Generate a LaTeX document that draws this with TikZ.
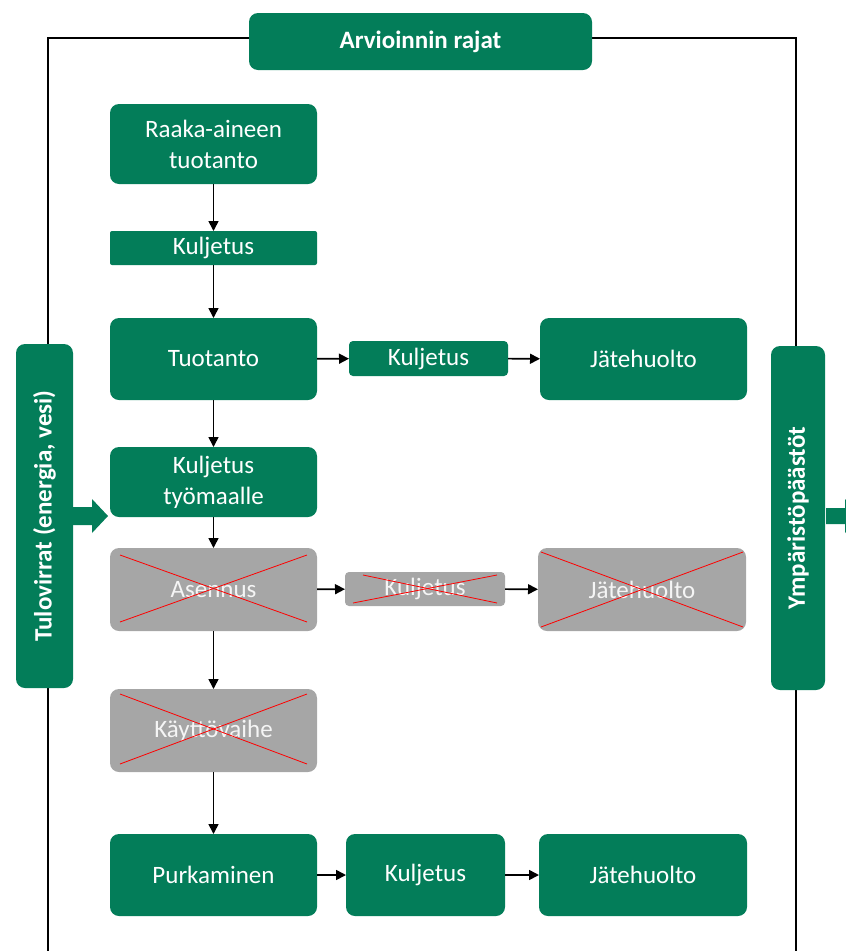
\documentclass[tikz,border=0pt]{standalone}
\usepackage{fontspec}
\setmainfont{Carlito}
\usetikzlibrary{arrows.meta}
\definecolor{fgreen}{RGB}{3,125,89}
\definecolor{fgray}{RGB}{166,166,166}
\begin{document}
\begin{tikzpicture}[x=1pt,y=-1pt,
  box/.style={fill=fgreen,draw=none,rounded corners=9pt,text=white,align=center,inner sep=0pt,outer sep=0pt,font=\fontsize{25}{31}\selectfont},
  gbox/.style={box,fill=fgray,text=white!92!gray},
  lbl/.style={box,font=\bfseries\fontsize{25}{31}\selectfont},
  arr/.style={line width=1.6pt,-{Triangle[length=10pt,width=10pt]}},
  cross/.style={red,line width=0.8pt}]
\useasboundingbox (0,0) rectangle (846,951);
% frame
\draw[line width=1.5pt] (249,38) -- (48,38) -- (48,951);
\draw[line width=1.5pt] (592,38) -- (796,38) -- (796,951);
% title
\node[lbl,minimum width=343pt,minimum height=57pt] (title) at (420.5,41.5) {Arvioinnin rajat};
% side boxes
\node[lbl,minimum width=57pt,minimum height=344pt] (left) at (44.5,516) {};
\node[rotate=90,text=white,font=\bfseries\fontsize{25}{31}\selectfont] (lefttxt) at (left.center) {Tulovirrat (energia, vesi)};
\node[lbl,minimum width=54pt,minimum height=344pt] (right) at (798,518) {};
\node[rotate=90,text=white,font=\bfseries\fontsize{25}{31}\selectfont] (righttxt) at (right.center) {Ympäristöpäästöt};
% block arrows
\fill[fgreen] (73,507) -- (92,507) -- (92,499) -- (108,516) -- (92,533) -- (92,525) -- (73,525) -- cycle;
\fill[fgreen] (826,508) -- (845,508) -- (845,499) -- (861,516) -- (845,533) -- (845,524) -- (826,524) -- cycle;
% column 1
\node[box,minimum width=207pt,minimum height=80pt] (raaka) at (213.5,144) {Raaka-aineen\\tuotanto};
\node[box,rounded corners=2pt,minimum width=207pt,minimum height=34pt] (k1) at (213.5,248) {Kuljetus};
\node[box,minimum width=207pt,minimum height=82pt] (tuot) at (213.5,359) {Tuotanto};
\node[box,rounded corners=4pt,minimum width=159pt,minimum height=35pt] (k2) at (428.5,358.5) {Kuljetus};
\node[box,minimum width=207pt,minimum height=82pt] (j1) at (643.5,359) {Jätehuolto};
\node[box,minimum width=207pt,minimum height=70pt] (ktm) at (213.5,482) {Kuljetus\\työmaalle};
\node[gbox,minimum width=207pt,minimum height=83pt] (asen) at (213.5,589.5) {Asennus};
\node[gbox,rounded corners=4pt,minimum width=160pt,minimum height=34pt] (k3) at (425,589) {Kuljetus};
\node[gbox,minimum width=208pt,minimum height=83pt] (j2) at (642,589.5) {Jätehuolto};
\node[gbox,minimum width=207pt,minimum height=83pt] (kayt) at (213.5,730.5) {Käyttövaihe};
\node[box,minimum width=207pt,minimum height=82pt] (purk) at (213.5,875) {Purkaminen};
\node[box,minimum width=159pt,minimum height=82pt] (k4) at (425.5,875) {Kuljetus};
\node[box,minimum width=208pt,minimum height=82pt] (j3) at (643,875) {Jätehuolto};
% crosses
\draw[cross] ([shift={(10,7)}]asen.north west) -- ([shift={(-10,-9)}]asen.south east);
\draw[cross] ([shift={(10,-9)}]asen.south west) -- ([shift={(-10,7)}]asen.north east);
\draw[cross] ([shift={(18,3)}]k3.north west) -- ([shift={(-8,-3)}]k3.south east);
\draw[cross] ([shift={(8,-3)}]k3.south west) -- ([shift={(-8,3)}]k3.north east);
\draw[cross] ([shift={(3,4)}]j2.north west) -- ([shift={(-3,-4)}]j2.south east);
\draw[cross] ([shift={(3,-4)}]j2.south west) -- ([shift={(-3,4)}]j2.north east);
\draw[cross] ([shift={(10,5)}]kayt.north west) -- ([shift={(-10,-8)}]kayt.south east);
\draw[cross] ([shift={(10,-8)}]kayt.south west) -- ([shift={(-10,5)}]kayt.north east);
% arrows
\draw[arr] (raaka) -- (k1);
\draw[arr] (k1) -- (tuot);
\draw[arr] (tuot) -- (k2);
\draw[arr] (k2) -- (j1);
\draw[arr] (tuot) -- (ktm);
\draw[arr] (ktm) -- (asen);
\draw[arr] (asen) -- (k3);
\draw[arr] (k3) -- (j2);
\draw[arr] (asen) -- (kayt);
\draw[arr] (kayt) -- (purk);
\draw[arr] (purk) -- (k4);
\draw[arr] (k4) -- (j3);
\end{tikzpicture}
\end{document}
